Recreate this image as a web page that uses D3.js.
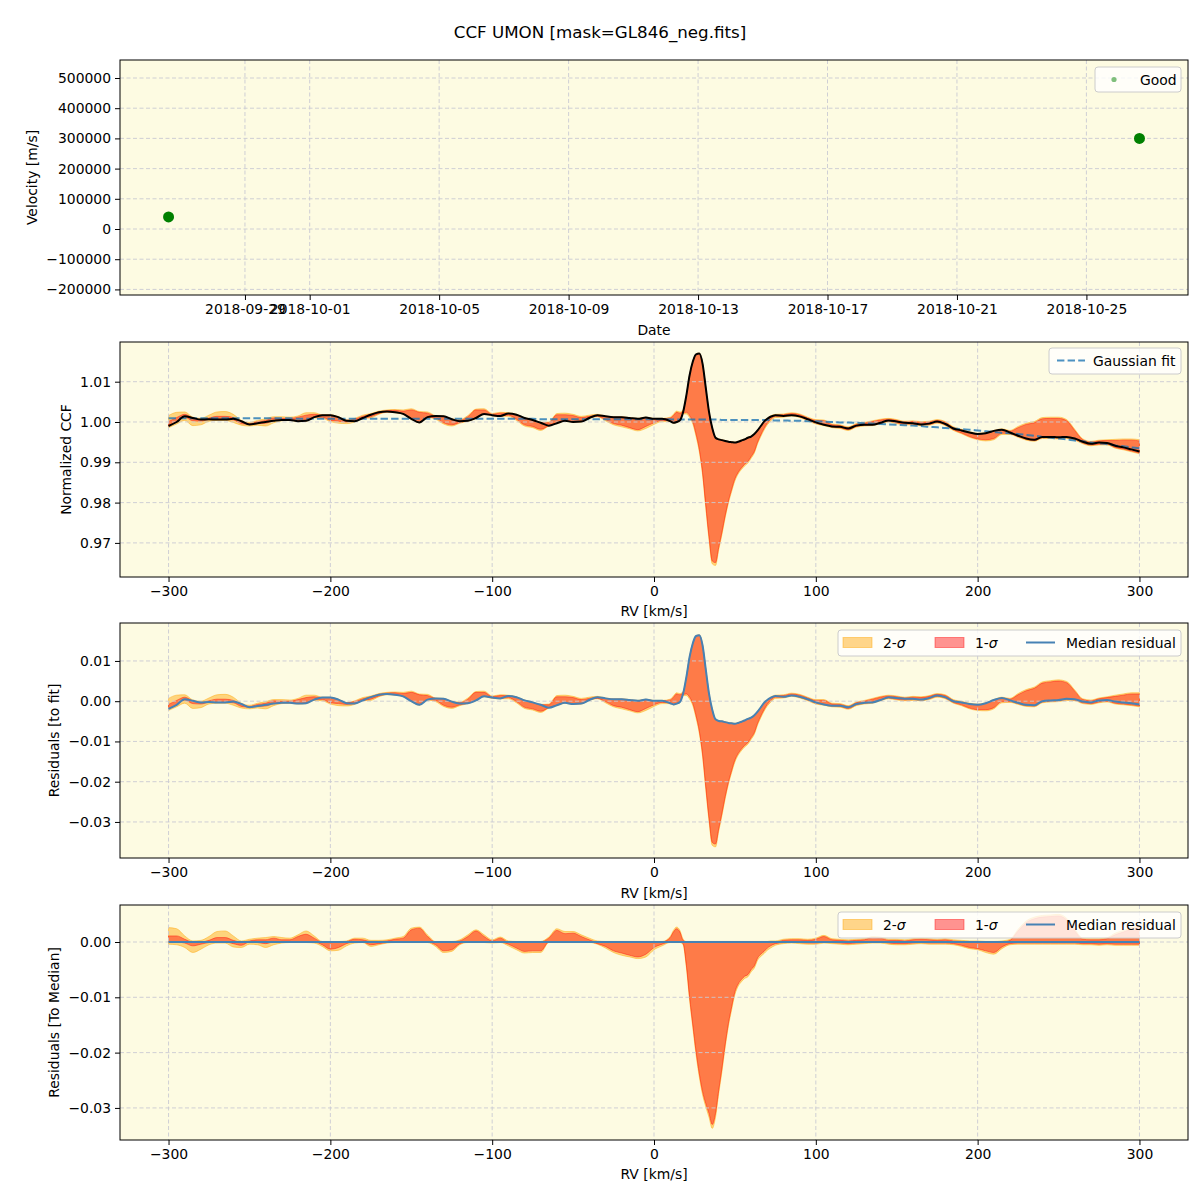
<!DOCTYPE html>
<html><head><meta charset="utf-8">
<script src="https://cdn.jsdelivr.net/npm/d3@7"></script>
<style>body{margin:0;background:#fff}svg{display:block}text{font-family:"DejaVu Sans",sans-serif;fill:#000}</style>
</head><body><svg id="c" width="1200" height="1200"></svg>
<script>
// ---------------- DATA ----------------
const obsDates = ["2018-09-26T15:20:00Z", "2018-10-26T15:20:00Z"];
const obsVelocity = [40000, 300000];
const dateDomain = ["2018-09-25T03:20:00Z", "2018-10-28T03:20:00Z"];
const dateTicks = ["2018-09-29", "2018-10-01", "2018-10-05", "2018-10-09", "2018-10-13", "2018-10-17", "2018-10-21", "2018-10-25"];
const velTicks = [-200000, -100000, 0, 100000, 200000, 300000, 400000, 500000];
const rvTicks = [-300, -200, -100, 0, 100, 200, 300];
const ccfTicks = [0.97, 0.98, 0.99, 1.00, 1.01];
const fitResTicks = [-0.03, -0.02, -0.01, 0.00, 0.01];
const medResTicks = [-0.03, -0.02, -0.01, 0.00];

const rv = [-300,-295,-290,-285,-280,-275,-270,-265,-260,-255,-250,-245,-240,-235,-230,-225,-220,-215,-210,-205,
 -200,-195,-190,-185,-180,-175,-170,-165,-160,-155,-150,-145,-140,-135,-130,-125,-120,-115,-110,-105,
 -100,-95,-90,-85,-80,-75,-70,-65,-60,-55,-50,-45,-40,-35,-30,-25,-20,-15,-10,-5,0,5,10,
 12,14,16,18,20,22,24,26,28,30,32,34,36,38,40,42,44,46,48,50,52,54,56,58,60,62,64,66,68,70,72,
 75,80,85,90,95,100,105,110,115,120,125,130,135,140,145,150,155,160,165,170,
 175,180,185,190,195,200,205,210,215,220,225,230,235,240,245,250,255,260,265,270,275,280,285,290,295,300];

// median (master) CCF — black line
const ccfMedian = [0.9990,1.0000,1.0014,1.0010,1.0006,1.0007,1.0006,1.0006,1.0008,1.0002,
 0.9994,0.9997,1.0000,1.0003,1.0005,1.0005,1.0002,1.0003,1.0012,1.0017,
 1.0017,1.0012,1.0003,1.0002,1.0010,1.0018,1.0024,1.0026,1.0024,1.0020,
 1.0008,0.9999,1.0012,1.0015,1.0014,1.0007,1.0002,1.0003,1.0010,1.0020,
 1.0017,1.0015,1.0021,1.0018,1.0010,1.0005,0.9998,0.9991,0.9997,1.0003,
 1.0000,1.0001,1.0010,1.0017,1.0014,1.0012,1.0012,1.0010,1.0008,1.0011,
 1.0008,1.0008,1.0002,
 0.9998,1.0000,1.0004,1.0025,1.0066,1.0116,1.0150,1.0168,1.0170,1.0145,
 1.0085,1.0025,0.9985,0.9961,0.9957,0.9955,0.9953,0.9951,0.9950,0.9949,
 0.9951,0.9954,0.9957,0.9961,0.9964,0.9970,0.9979,0.9990,1.0001,1.0008,1.0013,
 1.0017,1.0015,1.0017,1.0014,1.0007,0.9999,0.9993,0.9989,0.9988,0.9984,
 0.9991,0.9993,0.9993,0.9998,1.0004,1.0001,0.9998,0.9997,0.9994,0.9996,
 1.0001,0.9995,0.9984,0.9979,0.9974,0.9970,0.9972,0.9978,0.9981,0.9974,
 0.9966,0.9959,0.9956,0.9963,0.9963,0.9962,0.9963,0.9959,0.9951,0.9946,
 0.9949,0.9948,0.9941,0.9937,0.9932,0.9927];

// Gaussian fit — dashed line
const gaussFit = [1.0009,1.0009,1.0009,1.0009,1.0009,1.0009,1.0009,1.0009,1.0009,1.0009,
 1.0009,1.0009,1.0009,1.0009,1.0009,1.0009,
 1.0008,1.0008,1.0008,1.0008,1.0008,1.0008,1.0008,1.0008,1.0008,1.0008,
 1.0008,1.0008,1.0008,1.0008,1.0008,1.0008,1.0008,1.0008,1.0008,1.0008,
 1.0008,1.0008,1.0008,1.0008,1.0008,1.0008,1.0008,1.0008,1.0008,1.0008,
 1.0007,1.0007,1.0007,1.0007,1.0007,1.0007,1.0007,1.0007,1.0007,1.0007,
 1.0007,1.0007,1.0007,1.0007,1.0007,1.0007,1.0007,
 1.0006,1.0006,1.0006,1.0006,1.0006,1.0006,1.0006,1.0006,1.0006,1.0006,
 1.0006,1.0006,1.0006,1.0006,1.0006,
 1.0005,1.0005,1.0005,1.0005,1.0005,1.0005,1.0005,1.0005,1.0005,1.0005,
 1.0005,1.0005,1.0005,1.0005,1.0005,1.0005,
 1.0004,1.0004,1.0003,1.0003,1.0002,1.0002,1.0001,1.0000,0.9999,0.9999,
 0.9998,0.9997,0.9996,0.9995,0.9994,0.9993,0.9992,0.9991,0.9990,0.9988,
 0.9987,0.9985,0.9984,0.9982,0.9981,0.9979,0.9977,0.9975,0.9973,0.9972,
 0.9970,0.9968,0.9966,0.9963,0.9961,0.9959,0.9957,0.9954,0.9952,0.9949,
 0.9947,0.9945,0.9942,0.9940,0.9937,0.9935];

// spread of the individual CCFs about the median (1-sigma and 2-sigma envelopes)
const devLo1 = [0,0,-0.0002,-0.0007,-0.0004,-0.0001,0,0,-0.0003,-0.0006,
 0,-0.0001,-0.0003,0,0,0,0,0,0,-0.0005,
 -0.0013,-0.0010,-0.0003,0,0,-0.0005,-0.0003,-0.0001,0,0,
 0,0,0,-0.0005,-0.0016,-0.0014,-0.0003,0,0,0,
 -0.0001,0,-0.0004,-0.0011,-0.0017,-0.0016,-0.0016,0,0,0,
 0,0,0,-0.0003,-0.0008,-0.0016,-0.0020,-0.0024,-0.0027,-0.0022,
 -0.0010,-0.0004,0,
 0,0,0,-0.0003,-0.0042,-0.0100,-0.0150,-0.0198,-0.0238,-0.0270,
 -0.0292,-0.0310,-0.0330,-0.0310,-0.0268,-0.0228,-0.0185,-0.0147,-0.0117,-0.0090,
 -0.0076,-0.0068,-0.0062,-0.0059,-0.0050,-0.0043,-0.0029,-0.0022,-0.0017,-0.0011,-0.0007,
 -0.0003,-0.0001,0,-0.0001,-0.0002,-0.0002,0,-0.0001,-0.0002,-0.0003,
 -0.0002,-0.0001,0,0,-0.0002,-0.0003,-0.0003,-0.0002,-0.0001,-0.0002,
 -0.0002,-0.0002,-0.0003,-0.0006,-0.0010,-0.0012,-0.0016,-0.0019,-0.0009,-0.0003,
 -0.0002,-0.0002,-0.0002,-0.0002,-0.0002,-0.0002,-0.0002,-0.0002,-0.0003,-0.0003,
 -0.0004,-0.0003,-0.0004,-0.0004,-0.0004,-0.0004];
const devHi1 = [0.0011,0.0011,0.0005,0,0,0.0003,0.0008,0.0008,0.0003,0,
 0.0002,0.0004,0.0004,0.0007,0.0004,0.0004,0.0010,0.0014,0.0007,0,
 0,0,0.0001,0.0005,0.0004,0.0001,0.0001,0.0002,0.0005,0.0007,
 0.0022,0.0025,0.0010,0,0,0,0.0002,0.0010,0.0020,0.0010,
 0.0002,0.0007,0,0,0,0,0,0.0007,0.0021,0.0015,
 0.0016,0.0010,0.0004,0,0,0,0,0,0,0,
 0,0,0.0008,
 0.0018,0.0024,0.0018,0.0003,0,0,0,0,0,0,
 0,0,0,0,0,0,0,0,0,0,
 0,0,0,0,0,0,0,0,0,0,0,
 0,0.0003,0.0004,0.0004,0.0003,0.0005,0.0010,0.0004,0.0003,0.0002,
 0.0003,0.0004,0.0008,0.0007,0.0003,0.0003,0.0002,0.0004,0.0005,0.0004,
 0.0003,0.0004,0.0002,0.0001,0,0,0,0,0,0.0003,
 0.0020,0.0035,0.0042,0.0045,0.0046,0.0047,0.0040,0.0020,0.0005,0.0004,
 0.0004,0.0006,0.0013,0.0018,0.0023,0.0026];
const devLo2 = [-0.0004,-0.0005,-0.0010,-0.0019,-0.0013,-0.0005,-0.0002,-0.0002,-0.0009,-0.0010,
 -0.0004,-0.0005,-0.0010,-0.0005,-0.0002,-0.0001,-0.0001,-0.0001,-0.0002,-0.0008,
 -0.0016,-0.0015,-0.0007,-0.0002,-0.0001,-0.0008,-0.0005,-0.0002,-0.0001,-0.0001,
 -0.0001,-0.0001,-0.0001,-0.0008,-0.0019,-0.0017,-0.0005,-0.0001,-0.0001,-0.0001,
 -0.0002,-0.0001,-0.0007,-0.0014,-0.0020,-0.0019,-0.0019,-0.0001,-0.0001,-0.0001,
 -0.0001,-0.0001,-0.0001,-0.0004,-0.0011,-0.0019,-0.0024,-0.0027,-0.0030,-0.0027,
 -0.0014,-0.0007,-0.0001,
 -0.0001,-0.0001,-0.0001,-0.0005,-0.0046,-0.0105,-0.0155,-0.0204,-0.0244,-0.0276,
 -0.0298,-0.0317,-0.0337,-0.0317,-0.0274,-0.0234,-0.0190,-0.0152,-0.0122,-0.0095,
 -0.0080,-0.0072,-0.0066,-0.0063,-0.0054,-0.0047,-0.0033,-0.0026,-0.0021,-0.0015,-0.0011,
 -0.0006,-0.0003,-0.0002,-0.0003,-0.0004,-0.0004,-0.0002,-0.0003,-0.0004,-0.0005,
 -0.0004,-0.0003,-0.0002,-0.0002,-0.0004,-0.0005,-0.0005,-0.0004,-0.0003,-0.0004,
 -0.0004,-0.0004,-0.0005,-0.0008,-0.0012,-0.0014,-0.0019,-0.0022,-0.0012,-0.0005,
 -0.0004,-0.0004,-0.0004,-0.0004,-0.0004,-0.0004,-0.0004,-0.0004,-0.0005,-0.0005,
 -0.0006,-0.0005,-0.0006,-0.0006,-0.0006,-0.0006];
const devHi2 = [0.0026,0.0024,0.0011,0.0002,0.0003,0.0010,0.0019,0.0020,0.0011,0.0002,
 0.0005,0.0007,0.0008,0.0010,0.0008,0.0007,0.0013,0.0020,0.0011,0.0001,
 0.0001,0.0001,0.0002,0.0007,0.0007,0.0003,0.0003,0.0004,0.0007,0.0010,
 0.0025,0.0027,0.0013,0.0001,0.0001,0.0001,0.0004,0.0013,0.0022,0.0013,
 0.0004,0.0009,0.0002,0.0001,0.0001,0.0001,0.0001,0.0009,0.0024,0.0019,
 0.0019,0.0013,0.0007,0.0002,0.0001,0.0001,0.0001,0.0001,0.0001,0.0001,
 0.0001,0.0001,0.0010,
 0.0021,0.0027,0.0021,0.0005,0.0001,0.0001,0.0001,0.0001,0.0001,0.0001,
 0.0001,0.0001,0.0001,0.0001,0.0001,0.0001,0.0001,0.0001,0.0001,0.0001,
 0.0001,0.0001,0.0001,0.0001,0.0001,0.0001,0.0001,0.0001,0.0001,0.0001,0.0002,
 0.0002,0.0005,0.0006,0.0006,0.0005,0.0007,0.0012,0.0006,0.0005,0.0004,
 0.0005,0.0006,0.0010,0.0009,0.0005,0.0005,0.0004,0.0006,0.0007,0.0006,
 0.0005,0.0006,0.0004,0.0003,0.0002,0.0002,0.0001,0.0001,0.0002,0.0005,
 0.0023,0.0038,0.0045,0.0048,0.0049,0.0050,0.0043,0.0023,0.0007,0.0006,
 0.0006,0.0008,0.0016,0.0021,0.0026,0.0029];

const medianResidualRv = [-300, 300];
const medianResidual = [0, 0];

// ---------------- DRAWING ----------------
const svg = d3.select("#c");
const L = 120, R = 1188;
const BG = "#fdfbe2", GRID = "#c9c9d2";
const ORANGE = "orange", RED = "red", BLUE = "#4682b4";
const TICKFS = 13.9;

svg.append("rect").attr("width", 1200).attr("height", 1200).attr("fill", "#fff");
svg.append("text").attr("x", 600).attr("y", 38).attr("text-anchor", "middle")
  .attr("font-size", 16.7).text("CCF UMON [mask=GL846_neg.fits]");

function makePanel(top, bottom, id) {
  const g = svg.append("g");
  g.append("rect").attr("x", L).attr("y", top).attr("width", R - L).attr("height", bottom - top).attr("fill", BG);
  svg.append("clipPath").attr("id", id).append("rect")
    .attr("x", L).attr("y", top).attr("width", R - L).attr("height", bottom - top);
  const fills = g.append("g").attr("clip-path", `url(#${id})`);
  const grid = g.append("g");
  const lines = g.append("g").attr("clip-path", `url(#${id})`);
  const pts = g.append("g");
  const frame = g.append("g");
  const legend = g.append("g");
  return {g, fills, grid, lines, pts, frame, legend, top, bottom};
}

function drawAxes(p, x, y, xTicks, xFmt, yTicks, yFmt, xLabel, yLabel, yLabelX, xLabelY) {
  // grid
  xTicks.forEach(t => p.grid.append("line").attr("x1", x(t)).attr("x2", x(t)).attr("y1", p.top).attr("y2", p.bottom)
    .attr("stroke", GRID).attr("stroke-width", 0.9).attr("stroke-dasharray", "4,2.5"));
  yTicks.forEach(t => p.grid.append("line").attr("x1", L).attr("x2", R).attr("y1", y(t)).attr("y2", y(t))
    .attr("stroke", GRID).attr("stroke-width", 0.9).attr("stroke-dasharray", "4,2.5"));
  // frame
  p.frame.append("rect").attr("x", L).attr("y", p.top).attr("width", R - L).attr("height", p.bottom - p.top)
    .attr("fill", "none").attr("stroke", "#000").attr("stroke-width", 1);
  const xa = p.frame.append("g").attr("transform", `translate(0,${p.bottom})`)
    .call(d3.axisBottom(x).tickValues(xTicks).tickFormat(xFmt).tickSize(5).tickPadding(4).tickSizeOuter(0));
  const ya = p.frame.append("g").attr("transform", `translate(${L},0)`)
    .call(d3.axisLeft(y).tickValues(yTicks).tickFormat(yFmt).tickSize(5).tickPadding(4).tickSizeOuter(0));
  [xa, ya].forEach(a => {
    a.select(".domain").remove();
    a.attr("font-family", null).attr("font-size", null);
    a.selectAll("text").attr("font-size", TICKFS).attr("fill", "#000");
    a.selectAll("line").attr("stroke", "#000");
  });
  p.frame.append("text").attr("x", (L + R) / 2).attr("y", xLabelY).attr("text-anchor", "middle")
    .attr("font-size", TICKFS).text(xLabel);
  p.frame.append("text").attr("transform", `translate(${yLabelX},${(p.top + p.bottom) / 2}) rotate(-90)`)
    .attr("text-anchor", "middle").attr("dy", "0.35em").attr("font-size", TICKFS).text(yLabel);
}

function legendBox(p, x, y, w, h) {
  p.legend.append("rect").attr("x", x).attr("y", y).attr("width", w).attr("height", h).attr("rx", 3)
    .attr("fill", "#fff").attr("fill-opacity", 0.8).attr("stroke", "#cccccc").attr("stroke-width", 1);
}

function sigmaLegend(p, y0) {
  legendBox(p, 838, y0, 343, 26);
  const cy = y0 + 12.5;
  p.legend.append("rect").attr("x", 843).attr("y", cy - 5).attr("width", 29).attr("height", 10)
    .attr("fill", ORANGE).attr("fill-opacity", 0.45).attr("stroke", ORANGE).attr("stroke-opacity", 0.45);
  const t1 = p.legend.append("text").attr("x", 883).attr("y", cy + 5).attr("font-size", TICKFS);
  t1.append("tspan").text("2-"); t1.append("tspan").attr("font-style", "italic").text("σ");
  p.legend.append("rect").attr("x", 935).attr("y", cy - 5).attr("width", 29).attr("height", 10)
    .attr("fill", RED).attr("fill-opacity", 0.42).attr("stroke", RED).attr("stroke-opacity", 0.42);
  const t2 = p.legend.append("text").attr("x", 975).attr("y", cy + 5).attr("font-size", TICKFS);
  t2.append("tspan").text("1-"); t2.append("tspan").attr("font-style", "italic").text("σ");
  p.legend.append("line").attr("x1", 1026).attr("x2", 1055).attr("y1", cy).attr("y2", cy)
    .attr("stroke", BLUE).attr("stroke-width", 2);
  p.legend.append("text").attr("x", 1066).attr("y", cy + 5).attr("font-size", TICKFS).text("Median residual");
}

const rows = rv.map((v, i) => ({
  rv: v, ccf: ccfMedian[i], fit: gaussFit[i],
  lo1: devLo1[i], hi1: devHi1[i], lo2: devLo2[i], hi2: devHi2[i]
}));

function bands(p, x, y, base) {
  const a2 = d3.area().x(d => x(d.rv)).y0(d => y(base(d) + d.lo2)).y1(d => y(base(d) + d.hi2)).curve(d3.curveMonotoneX);
  const a1 = d3.area().x(d => x(d.rv)).y0(d => y(base(d) + d.lo1)).y1(d => y(base(d) + d.hi1)).curve(d3.curveMonotoneX);
  p.fills.append("path").attr("d", a2(rows)).attr("fill", ORANGE).attr("fill-opacity", 0.45)
    .attr("stroke", ORANGE).attr("stroke-opacity", 0.45).attr("stroke-width", 1);
  p.fills.append("path").attr("d", a1(rows)).attr("fill", RED).attr("fill-opacity", 0.42)
    .attr("stroke", RED).attr("stroke-opacity", 0.42).attr("stroke-width", 1);
}

// ---- Panel 1: velocity vs date ----
{
  const p = makePanel(60, 295, "clip1");
  const x = d3.scaleUtc().domain(dateDomain.map(d => new Date(d))).range([L, R]);
  const y = d3.scaleLinear().domain([-218500, 559600]).range([295, 60]);
  const dt = dateTicks.map(d => new Date(d + "T00:00:00Z"));
  drawAxes(p, x, y, dt, d3.utcFormat("%Y-%m-%d"), velTicks, d3.format("d"), "Date", "Velocity [m/s]", 32, 335);
  p.pts.selectAll("circle").data(obsDates.map((d, i) => ({d: new Date(d), v: obsVelocity[i]})))
    .join("circle").attr("cx", d => x(d.d)).attr("cy", d => y(d.v)).attr("r", 5.5).attr("fill", "green");
  legendBox(p, 1095, 67, 86, 25);
  p.legend.append("circle").attr("cx", 1114).attr("cy", 79.5).attr("r", 2.6).attr("fill", "green").attr("fill-opacity", 0.5);
  p.legend.append("text").attr("x", 1140).attr("y", 84.5).attr("font-size", TICKFS).text("Good");
}

const xRV = (top) => d3.scaleLinear().domain([-330, 330]).range([L, R]);

// ---- Panel 2: normalized CCF ----
{
  const p = makePanel(342, 577, "clip2");
  const x = xRV();
  const y = d3.scaleLinear().domain([0.96154, 1.01985]).range([577, 342]);
  bands(p, x, y, d => d.ccf);
  drawAxes(p, x, y, rvTicks, d3.format("d"), ccfTicks, d3.format(".2f"), "RV [km/s]", "Normalized CCF", 66, 616);
  p.lines.append("path").attr("d", d3.line().x(d => x(d.rv)).y(d => y(d.fit)).curve(d3.curveMonotoneX)(rows))
    .attr("fill", "none").attr("stroke", "#1f77b4").attr("stroke-opacity", 0.8).attr("stroke-width", 2).attr("stroke-dasharray", "7.4,3.2");
  p.lines.append("path").attr("d", d3.line().x(d => x(d.rv)).y(d => y(d.ccf)).curve(d3.curveMonotoneX)(rows))
    .attr("fill", "none").attr("stroke", "#000").attr("stroke-width", 2);
  legendBox(p, 1049, 348, 132, 26);
  p.legend.append("line").attr("x1", 1057).attr("x2", 1085).attr("y1", 360.5).attr("y2", 360.5)
    .attr("stroke", "#1f77b4").attr("stroke-opacity", 0.8).attr("stroke-width", 2).attr("stroke-dasharray", "7.4,3.2");
  p.legend.append("text").attr("x", 1093).attr("y", 365.5).attr("font-size", TICKFS).text("Gaussian fit");
}

// ---- Panel 3: residuals to fit ----
{
  const p = makePanel(623, 858, "clip3");
  const x = xRV();
  const y = d3.scaleLinear().domain([-0.03896, 0.01943]).range([858, 623]);
  bands(p, x, y, d => d.ccf - d.fit);
  drawAxes(p, x, y, rvTicks, d3.format("d"), fitResTicks, d3.format(".2f"), "RV [km/s]", "Residuals [to fit]", 54, 898);
  p.lines.append("path").attr("d", d3.line().x(d => x(d.rv)).y(d => y(d.ccf - d.fit)).curve(d3.curveMonotoneX)(rows))
    .attr("fill", "none").attr("stroke", BLUE).attr("stroke-width", 2);
  sigmaLegend(p, 630);
}

// ---- Panel 4: residuals to median ----
{
  const p = makePanel(905, 1140, "clip4");
  const x = xRV();
  const y = d3.scaleLinear().domain([-0.0358, 0.00669]).range([1140, 905]);
  bands(p, x, y, d => 0);
  drawAxes(p, x, y, rvTicks, d3.format("d"), medResTicks, d3.format(".2f"), "RV [km/s]", "Residuals [To Median]", 54, 1179);
  p.lines.append("path").attr("d", d3.line().x((d, i) => x(medianResidualRv[i])).y(d => y(d))(medianResidual))
    .attr("fill", "none").attr("stroke", BLUE).attr("stroke-width", 2);
  sigmaLegend(p, 912);
}
</script>
</body></html>
